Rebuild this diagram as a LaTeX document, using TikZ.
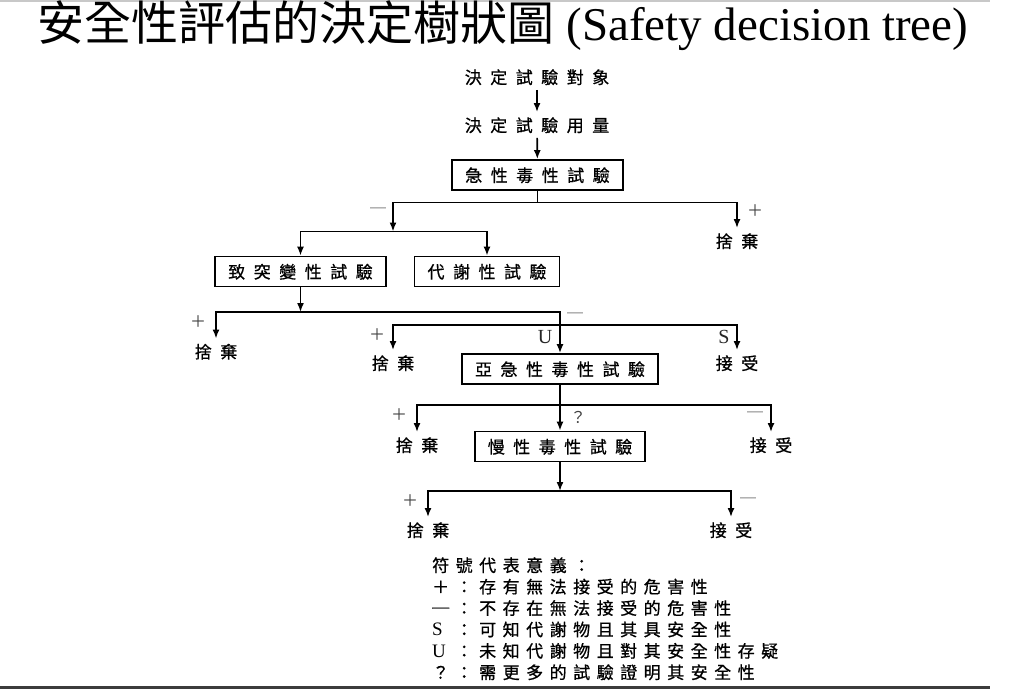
\documentclass[tikz,border=0pt]{standalone}
\usepackage{fontspec}
\setmainfont{Liberation Serif}
\newfontfamily\cjk{Noto Sans CJK TC}
\newfontfamily\cjkdark[FakeBold=0.8]{Noto Sans CJK TC}
\usetikzlibrary{arrows.meta, positioning}
\definecolor{rulegray}{RGB}{200,200,200}
\definecolor{ruledark}{RGB}{60,60,60}
% wide spacing between the characters of a label
\newdimen\chargap
\chargap=8.5pt
\def\spread#1{\spreadnext#1\relax}
\def\spreadnext#1#2{#1\ifx\relax#2\else\kern\chargap\relax\expandafter\spreadnext\expandafter#2\fi}
\newcommand\legmark[2]{\makebox[17pt][l]{#1}\kern\chargap\spread{：#2}}
\newcommand\legletter[1]{{\rmfamily\fontsize{19}{19}\selectfont #1}}
\tikzset{
  flow/.style={-{Latex[length=9pt,width=7pt]}, line width=1.7pt},
  tie/.style={line width=1.7pt},
  testbox/.style={
    draw, line width=1.7pt, minimum height=30pt, inner xsep=13pt, inner ysep=0pt,
    text height=13.5pt, text depth=0pt, font=\cjkdark\fontsize{17}{17}\selectfont
  },
  stepname/.style={inner xsep=0pt, inner ysep=6pt, text height=13.5pt, text depth=0pt,
    font=\cjkdark\fontsize{17}{17}\selectfont},
  sign/.style={inner sep=0pt, text=black!75, font=\cjk\fontsize{16}{16}\selectfont},
  letter/.style={inner sep=0pt, text=black!85, font=\fontsize{20}{20}\selectfont},
  legend/.style={anchor=west, inner sep=0pt, text height=13.5pt, text depth=0pt,
    font={\cjkdark\fontsize{17}{17}\selectfont\chargap=6.5pt}},
}
\begin{document}
\begin{tikzpicture}[x=1pt, y=-1pt]
  \useasboundingbox (0,0) rectangle (1024,689);
  \draw[rulegray, line width=1.5pt] (0,0.75) -- (990,0.75);
  \draw[ruledark, line width=2.5pt] (0,687.5) -- (990,687.5);

  \node[inner sep=0pt, font=\fontsize{47}{50}\selectfont] (title) at (503,26)
    {{\cjk 安全性評估的決定樹狀圖} (Safety decision tree)};

  % first steps
  \node[stepname] (object) at (537,77) {\spread{決定試驗對象}};
  \node[stepname] (dose) at (537,125) {\spread{決定試驗用量}};
  \node[testbox] (acute) at (537.5,175) {\spread{急性毒性試驗}};
  \draw[flow] (object) -- (dose);
  \draw[flow] (dose) -- (acute);

  \coordinate (j1) at (537.5,202.5);
  \coordinate (j2) at (393,231.5);
  \node[stepname] (drop1) at (737,241) {\spread{捨棄}};
  \draw[tie] (acute) -- (j1);
  \draw[flow] (j1) -| (j2);
  \draw[flow] (j1) -| (drop1);
  \node[sign] (minus1) at (378,211) {─};
  \node[sign] (plus1) at (755,211) {＋};

  \node[testbox] (mutagen) at (300.5,271.5) {\spread{致突變性試驗}};
  \node[testbox] (metab) at (487,271.5) {\spread{代謝性試驗}};
  \draw[flow] (j2) -| (mutagen);
  \draw[flow] (j2) -| (metab);

  % mutagenicity outcomes
  \coordinate (j3) at (300.5,312);
  \coordinate (j4) at (560,325);
  \draw[flow] (mutagen) -- (j3);
  \node[stepname] (drop2) at (216,351.5) {\spread{捨棄}};
  \node[testbox] (subacute) at (560,369) {\spread{亞急性毒性試驗}};
  \node[stepname] (drop3) at (393,363) {\spread{捨棄}};
  \node[stepname] (accept3) at (737,363) {\spread{接受}};
  \draw[flow] (j3) -| (drop2);
  \draw[flow] (j3) -| (subacute);
  \draw[flow] (j4) -| (drop3);
  \draw[flow] (j4) -| (accept3);
  \node[sign] (plus2) at (198,322) {＋};
  \node[sign] (minus2) at (575,316) {─};
  \node[sign] (plus3) at (377,335) {＋};
  \node[letter] (unknown) at (545,337) {U};
  \node[letter] (safe) at (724,337) {S};

  % subacute outcomes
  \coordinate (j5) at (560,405);
  \draw[tie] (subacute) -- (j5);
  \node[testbox] (chronic) at (560,446.5) {\spread{慢性毒性試驗}};
  \node[stepname] (drop4) at (417,445) {\spread{捨棄}};
  \node[stepname] (accept4) at (771,445) {\spread{接受}};
  \draw[flow] (j5) -- (chronic);
  \draw[flow] (j5) -| (drop4);
  \draw[flow] (j5) -| (accept4);
  \node[sign] (plus4) at (399,415) {＋};
  \node[sign] (minus4) at (755,415) {─};
  \node[sign] (query) at (578,417) {？};

  % chronic outcomes
  \coordinate (j6) at (560,491);
  \draw[flow] (chronic) -- (j6);
  \node[stepname] (drop5) at (428,530) {\spread{捨棄}};
  \node[stepname] (accept5) at (731,530) {\spread{接受}};
  \draw[flow] (j6) -| (drop5);
  \draw[flow] (j6) -| (accept5);
  \node[sign] (plus5) at (410,501) {＋};
  \node[sign] (minus5) at (748,501) {─};

  % key to the signs
  \node[legend] (key0) at (432,565) {\spread{符號代表意義：}};
  \node[legend] (key1) at (432,586.4) {\legmark{＋}{存有無法接受的危害性}};
  \node[legend] (key2) at (432,607.8) {\legmark{─}{不存在無法接受的危害性}};
  \node[legend] (key3) at (432,629.2) {\legmark{\legletter{S}}{可知代謝物且其具安全性}};
  \node[legend] (key4) at (432,650.6) {\legmark{\legletter{U}}{未知代謝物且對其安全性存疑}};
  \node[legend] (key5) at (432,672) {\legmark{？}{需更多的試驗證明其安全性}};
\end{tikzpicture}
\end{document}
